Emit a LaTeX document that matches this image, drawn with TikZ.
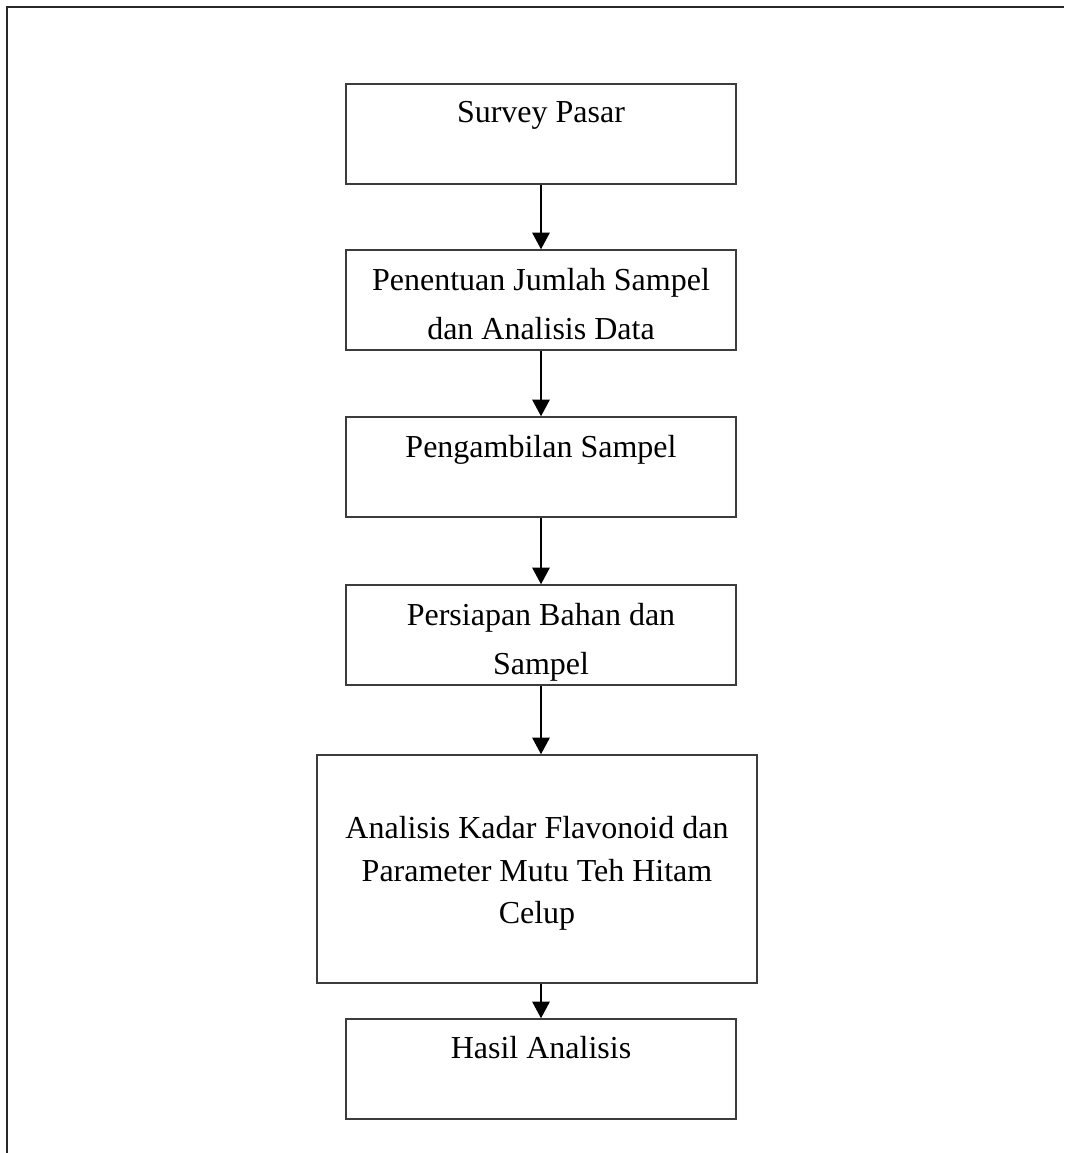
\documentclass[tikz,border=0pt]{standalone}
\usepackage{fontspec}
\setmainfont{Liberation Serif}
\usetikzlibrary{arrows.meta}

\begin{document}
\begin{tikzpicture}[x=0.75pt,y=0.75pt,yscale=-1,
  stepbox/.style={draw={rgb, 255:red, 60; green, 60; blue, 60 },line width=1.1pt,inner sep=0pt,minimum width=292.5pt,minimum height=75pt},
  steptext/.style={anchor=north,inner sep=0pt,align=center,font=\fontsize{24}{37}\selectfont},
  flowarrow/.style={line width=1.5pt,-{Triangle[width=13pt,length=12.5pt]}}]
\useasboundingbox (0,0) rectangle (1064,1153);

%Shape: Frame
\draw [color={rgb, 255:red, 40; green, 40; blue, 40 }, line width=1.5] (7,1153) -- (7,7) -- (1064,7) ;

%Shape: Rectangle
\node[stepbox] (survey) at (541,134) {};
%Shape: Rectangle
\node[stepbox] (jumlah) at (541,300) {};
%Shape: Rectangle
\node[stepbox] (ambil) at (541,467) {};
%Shape: Rectangle
\node[stepbox] (siap) at (541,635) {};
%Shape: Rectangle
\node[stepbox, minimum width=330pt, minimum height=171pt] (analisis) at (537,869) {};
%Shape: Rectangle
\node[stepbox] (hasil) at (541,1069) {};

% Text Node
\node[steptext] (tsurvey) at (541,101) {Survey Pasar};
% Text Node
\node[steptext] (tjumlah) at (541,268) {Penentuan Jumlah Sampel\\dan Analisis Data};
% Text Node
\node[steptext] (tambil) at (541,435) {Pengambilan Sampel};
% Text Node
\node[steptext] (tsiap) at (541,603) {Persiapan Bahan dan\\Sampel};
% Text Node
\node[steptext, font=\fontsize{24}{32}\selectfont] (tanalisis) at (537,816) {Analisis Kadar Flavonoid dan\\Parameter Mutu Teh Hitam\\Celup};
% Text Node
\node[steptext] (thasil) at (541,1036) {Hasil Analisis};

%Straight Lines
\draw[flowarrow] (survey) -- (jumlah);
\draw[flowarrow] (jumlah) -- (ambil);
\draw[flowarrow] (ambil) -- (siap);
\draw[flowarrow] (siap.south) -- (siap.south |- analisis.north);
\draw[flowarrow] (hasil.north |- analisis.south) -- (hasil.north);

\end{tikzpicture}
\end{document}
